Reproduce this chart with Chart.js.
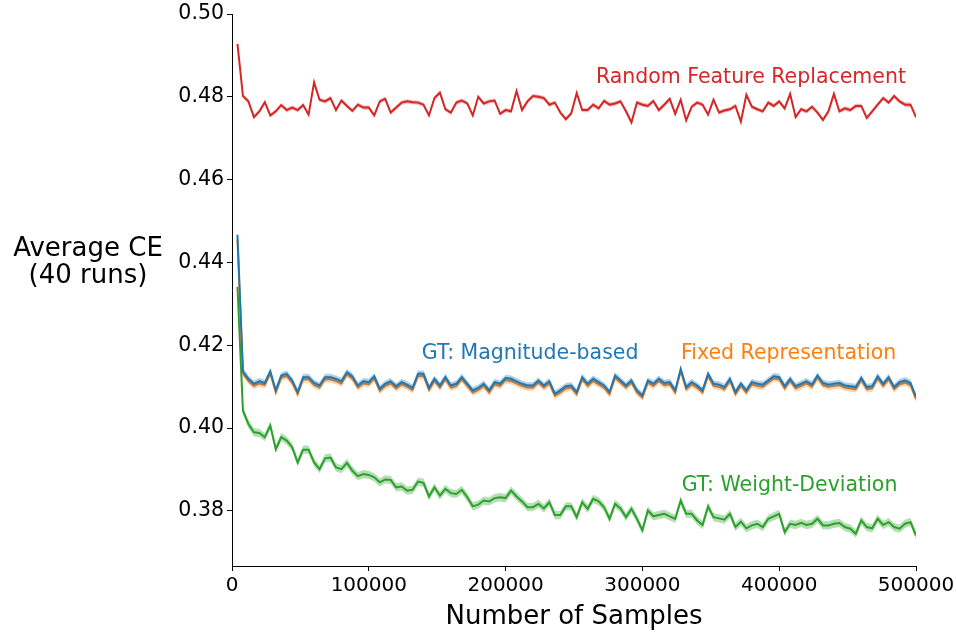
<!DOCTYPE html>
<html>
<head>
<meta charset="utf-8">
<script src="https://cdn.jsdelivr.net/npm/chart.js@4.4.0/dist/chart.umd.min.js"></script>
<style>
  html, body { margin: 0; padding: 0; background: #fff; }
  #wrap { width: 956px; height: 636px; }
</style>
</head>
<body>
<div id="wrap"><canvas id="myChart" width="956" height="636"></canvas></div>
<script>
// number of samples at each evaluation point
var samples = [
  4000, 8000, 12000, 16000, 20000, 24000, 28000, 32000, 36000, 40000,
  44000, 48000, 52000, 56000, 60000, 64000, 68000, 72000, 76000, 80000,
  84000, 88000, 92000, 96000, 100000, 104000, 108000, 112000, 116000, 120000,
  124000, 128000, 132000, 136000, 140000, 144000, 148000, 152000, 156000, 160000,
  164000, 168000, 172000, 176000, 180000, 184000, 188000, 192000, 196000, 200000,
  204000, 208000, 212000, 216000, 220000, 224000, 228000, 232000, 236000, 240000,
  244000, 248000, 252000, 256000, 260000, 264000, 268000, 272000, 276000, 280000,
  284000, 288000, 292000, 296000, 300000, 304000, 308000, 312000, 316000, 320000,
  324000, 328000, 332000, 336000, 340000, 344000, 348000, 352000, 356000, 360000,
  364000, 368000, 372000, 376000, 380000, 384000, 388000, 392000, 396000, 400000,
  404000, 408000, 412000, 416000, 420000, 424000, 428000, 432000, 436000, 440000,
  444000, 448000, 452000, 456000, 460000, 464000, 468000, 472000, 476000, 480000,
  484000, 488000, 492000, 496000, 500000
];

var randomFeature = [
  0.4928, 0.4802, 0.4789, 0.4751, 0.4765, 0.4787, 0.4755, 0.4765, 0.4780, 0.4768,
  0.4774, 0.4768, 0.4780, 0.4757, 0.4835, 0.4793, 0.4789, 0.4797, 0.4768, 0.4791,
  0.4778, 0.4766, 0.4781, 0.4774, 0.4774, 0.4755, 0.4789, 0.4795, 0.4762, 0.4774,
  0.4786, 0.4789, 0.4787, 0.4786, 0.4781, 0.4755, 0.4797, 0.4810, 0.4770, 0.4762,
  0.4786, 0.4791, 0.4784, 0.4755, 0.4800, 0.4784, 0.4789, 0.4791, 0.4759, 0.4768,
  0.4765, 0.4814, 0.4768, 0.4789, 0.4802, 0.4800, 0.4797, 0.4781, 0.4786, 0.4762,
  0.4746, 0.4760, 0.4809, 0.4768, 0.4768, 0.4781, 0.4772, 0.4790, 0.4781, 0.4784,
  0.4789, 0.4765, 0.4738, 0.4786, 0.4781, 0.4778, 0.4790, 0.4768, 0.4781, 0.4795,
  0.4759, 0.4793, 0.4743, 0.4776, 0.4786, 0.4781, 0.4757, 0.4793, 0.4762, 0.4767,
  0.4770, 0.4778, 0.4740, 0.4805, 0.4776, 0.4770, 0.4765, 0.4786, 0.4778, 0.4789,
  0.4772, 0.4807, 0.4751, 0.4770, 0.4765, 0.4776, 0.4762, 0.4744, 0.4765, 0.4807,
  0.4765, 0.4772, 0.4768, 0.4778, 0.4778, 0.4749, 0.4765, 0.4781, 0.4797, 0.4786,
  0.4802, 0.4789, 0.4781, 0.4781, 0.4751
];

var magnitudeBased = [
  0.4467, 0.4137, 0.4119, 0.4107, 0.4113, 0.4109, 0.4137, 0.4091, 0.4127, 0.4131,
  0.4115, 0.4087, 0.4123, 0.4123, 0.4109, 0.4103, 0.4123, 0.4123, 0.4119, 0.4113,
  0.4135, 0.4125, 0.4103, 0.4113, 0.4111, 0.4125, 0.4095, 0.4107, 0.4113, 0.4101,
  0.4111, 0.4105, 0.4097, 0.4131, 0.4131, 0.4097, 0.4119, 0.4103, 0.4123, 0.4103,
  0.4107, 0.4123, 0.4107, 0.4091, 0.4097, 0.4107, 0.4091, 0.4111, 0.4107, 0.4121,
  0.4119, 0.4113, 0.4107, 0.4103, 0.4103, 0.4115, 0.4103, 0.4113, 0.4083, 0.4091,
  0.4101, 0.4103, 0.4087, 0.4123, 0.4107, 0.4119, 0.4111, 0.4103, 0.4087, 0.4127,
  0.4115, 0.4103, 0.4115, 0.4091, 0.4079, 0.4115, 0.4107, 0.4119, 0.4109, 0.4111,
  0.4091, 0.4143, 0.4099, 0.4111, 0.4103, 0.4091, 0.4131, 0.4107, 0.4105, 0.4099,
  0.4119, 0.4087, 0.4107, 0.4091, 0.4111, 0.4107, 0.4105, 0.4115, 0.4125, 0.4123,
  0.4101, 0.4119, 0.4101, 0.4107, 0.4113, 0.4105, 0.4127, 0.4109, 0.4105, 0.4107,
  0.4109, 0.4103, 0.4101, 0.4099, 0.4121, 0.4099, 0.4101, 0.4125, 0.4107, 0.4123,
  0.4099, 0.4111, 0.4115, 0.4109, 0.4075
];

var fixedRepr = [
  0.4455, 0.4132, 0.4114, 0.4102, 0.4108, 0.4104, 0.4132, 0.4086, 0.4122, 0.4126,
  0.4110, 0.4082, 0.4118, 0.4118, 0.4104, 0.4098, 0.4118, 0.4118, 0.4114, 0.4108,
  0.4130, 0.4120, 0.4098, 0.4108, 0.4106, 0.4120, 0.4090, 0.4102, 0.4108, 0.4096,
  0.4106, 0.4100, 0.4092, 0.4126, 0.4126, 0.4092, 0.4114, 0.4098, 0.4118, 0.4098,
  0.4102, 0.4118, 0.4102, 0.4086, 0.4092, 0.4102, 0.4086, 0.4106, 0.4102, 0.4116,
  0.4114, 0.4108, 0.4102, 0.4098, 0.4098, 0.4110, 0.4098, 0.4108, 0.4078, 0.4086,
  0.4096, 0.4098, 0.4082, 0.4118, 0.4102, 0.4114, 0.4106, 0.4098, 0.4082, 0.4122,
  0.4110, 0.4098, 0.4110, 0.4086, 0.4074, 0.4110, 0.4102, 0.4114, 0.4104, 0.4106,
  0.4086, 0.4138, 0.4094, 0.4106, 0.4098, 0.4086, 0.4126, 0.4102, 0.4100, 0.4094,
  0.4114, 0.4082, 0.4102, 0.4086, 0.4106, 0.4102, 0.4100, 0.4110, 0.4120, 0.4118,
  0.4096, 0.4114, 0.4096, 0.4102, 0.4108, 0.4100, 0.4122, 0.4104, 0.4100, 0.4102,
  0.4104, 0.4098, 0.4096, 0.4094, 0.4116, 0.4094, 0.4096, 0.4120, 0.4102, 0.4118,
  0.4094, 0.4106, 0.4110, 0.4104, 0.4070
];

var weightDeviation = [
  0.4341, 0.4042, 0.4010, 0.3990, 0.3988, 0.3978, 0.4006, 0.3949, 0.3978, 0.3970,
  0.3954, 0.3917, 0.3948, 0.3948, 0.3917, 0.3901, 0.3927, 0.3929, 0.3905, 0.3901,
  0.3916, 0.3897, 0.3884, 0.3889, 0.3887, 0.3881, 0.3869, 0.3876, 0.3875, 0.3857,
  0.3859, 0.3849, 0.3851, 0.3871, 0.3868, 0.3835, 0.3857, 0.3837, 0.3853, 0.3843,
  0.3841, 0.3851, 0.3833, 0.3811, 0.3815, 0.3825, 0.3823, 0.3831, 0.3833, 0.3831,
  0.3849, 0.3835, 0.3823, 0.3809, 0.3809, 0.3817, 0.3806, 0.3821, 0.3790, 0.3790,
  0.3811, 0.3811, 0.3785, 0.3821, 0.3805, 0.3829, 0.3823, 0.3809, 0.3781, 0.3817,
  0.3806, 0.3785, 0.3805, 0.3781, 0.3753, 0.3801, 0.3787, 0.3790, 0.3793, 0.3787,
  0.3781, 0.3825, 0.3793, 0.3793, 0.3777, 0.3766, 0.3811, 0.3785, 0.3782, 0.3779,
  0.3793, 0.3761, 0.3774, 0.3758, 0.3765, 0.3769, 0.3761, 0.3781, 0.3787, 0.3793,
  0.3749, 0.3769, 0.3766, 0.3771, 0.3766, 0.3769, 0.3781, 0.3765, 0.3765, 0.3769,
  0.3771, 0.3761, 0.3757, 0.3745, 0.3777, 0.3761, 0.3758, 0.3781, 0.3766, 0.3773,
  0.3761, 0.3757, 0.3769, 0.3773, 0.3741
];

var xTicks = [0, 100000, 200000, 300000, 400000, 500000];
var yTicks = [0.38, 0.40, 0.42, 0.44, 0.46, 0.48, 0.50];

// series: name, values, colour, band half-width
var series = [
  { name: 'Random Feature Replacement', data: randomFeature, color: '214,39,40', band: 0.0005,
    label: { x: 266000, y: 0.4834 } },
  { name: 'GT: Magnitude-based', data: magnitudeBased, color: '31,119,180', band: 0.0008,
    label: { x: 138700, y: 0.4166 } },
  { name: 'Fixed Representation', data: fixedRepr, color: '255,127,14', band: 0.0008,
    label: { x: 328200, y: 0.4166 } },
  { name: 'GT: Weight-Deviation', data: weightDeviation, color: '44,160,44', band: 0.0010,
    label: { x: 328700, y: 0.3849 } }
];

var FONT = "'DejaVu Sans', 'Liberation Sans', sans-serif";

function points(vals, off) {
  var out = [];
  for (var i = 0; i < vals.length; i++) {
    out.push({ x: samples[i], y: vals[i] + off });
  }
  return out;
}

var datasets = [];
series.forEach(function (s) {
  // shaded band (lower, then upper filled to lower)
  datasets.push({
    data: points(s.data, -s.band), borderWidth: 0, pointRadius: 0, fill: false, tension: 0
  });
  datasets.push({
    data: points(s.data, s.band), borderWidth: 0, pointRadius: 0, fill: '-1', tension: 0,
    backgroundColor: 'rgba(' + s.color + ',0.35)'
  });
  datasets.push({
    label: s.name, data: points(s.data, 0), borderColor: 'rgb(' + s.color + ')',
    borderWidth: 2, pointRadius: 0, fill: false, tension: 0
  });
});

// texts: curve names, y title (horizontal), x title
var textPlugin = {
  id: 'texts',
  afterDraw: function (chart) {
    var ctx = chart.ctx;
    var xs = chart.scales.x, ys = chart.scales.y;
    ctx.save();
    ctx.font = '20.5px ' + FONT;
    ctx.textAlign = 'left';
    ctx.textBaseline = 'alphabetic';
    series.forEach(function (s) {
      ctx.fillStyle = 'rgb(' + s.color + ')';
      ctx.fillText(s.name, xs.getPixelForValue(s.label.x), ys.getPixelForValue(s.label.y));
    });
    ctx.fillStyle = '#000';
    ctx.font = '26px ' + FONT;
    ctx.textAlign = 'center';
    ctx.fillText('Average CE', 88, 256);
    ctx.fillText('(40 runs)', 88, 283);
    ctx.fillText('Number of Samples', (chart.chartArea.left + chart.chartArea.right) / 2, 624);
    ctx.restore();
  }
};

var ctx = document.getElementById('myChart').getContext('2d');
var chart = new Chart(ctx, {
  type: 'line',
  data: { datasets: datasets },
  plugins: [textPlugin],
  options: {
    responsive: false,
    animation: false,
    layout: { padding: { left: 0, right: 40, top: 14, bottom: 0 } },
    plugins: {
      legend: { display: false },
      tooltip: { enabled: false },
      filler: { propagate: false }
    },
    scales: {
      x: {
        type: 'linear',
        min: 0,
        max: 500000,
        afterBuildTicks: function (scale) {
          scale.ticks = xTicks.map(function (v) { return { value: v }; });
        },
        afterFit: function (scale) {
          scale.height = 70;
          scale.paddingLeft = 0;
          scale.paddingRight = 0;
        },
        grid: { drawOnChartArea: false, drawTicks: true, tickLength: 5, tickColor: '#000', tickWidth: 1 },
        border: { display: true, color: '#000', width: 1 },
        ticks: {
          color: '#000', font: { family: FONT, size: 20 }, padding: 3, maxRotation: 0,
          autoSkip: false,
          callback: function (v) { return String(v); }
        }
      },
      y: {
        type: 'linear',
        min: 0.3667,
        max: 0.50,
        afterBuildTicks: function (scale) {
          scale.ticks = yTicks.map(function (v) { return { value: v }; });
        },
        afterFit: function (scale) {
          scale.width = 232;
          scale.paddingTop = 0;
          scale.paddingBottom = 0;
        },
        grid: { drawOnChartArea: false, drawTicks: true, tickLength: 5, tickColor: '#000', tickWidth: 1 },
        border: { display: true, color: '#000', width: 1 },
        ticks: {
          color: '#000', font: { family: FONT, size: 20.5 }, padding: 3, autoSkip: false,
          callback: function (v) { return v.toFixed(2); }
        }
      }
    }
  }
});
</script>
</body>
</html>
